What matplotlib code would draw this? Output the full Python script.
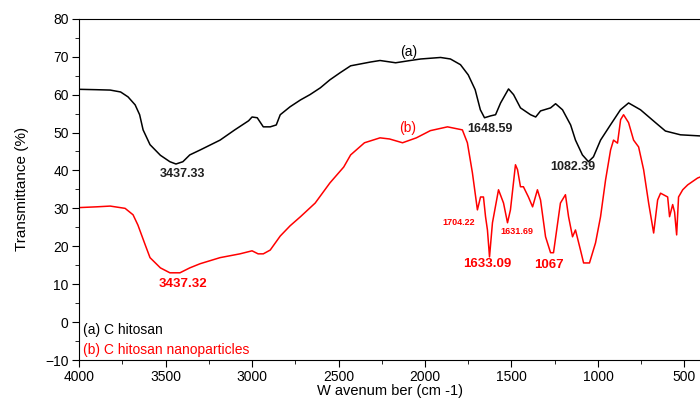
import numpy as np
from matplotlib import pyplot as plt
from matplotlib.ticker import MultipleLocator

plt.rcParams['font.family'] = ['Liberation Sans', 'DejaVu Sans']

# ---- Data ----

wn_a = [4000, 3900, 3820, 3760, 3717, 3676, 3650, 3630, 3590, 3530, 3475, 3440, 3400,
        3360, 3300, 3185, 3100, 3020, 3000, 2970, 2935, 2895, 2860, 2837, 2780, 2720,
        2665, 2605, 2550, 2490, 2430, 2315, 2260, 2170, 2085, 2025, 1910, 1853, 1795,
        1750, 1710, 1680, 1656, 1620, 1592, 1563, 1517, 1488, 1448, 1390, 1360, 1332,
        1274, 1245, 1205, 1158, 1130, 1090, 1055, 1026, 985, 928, 870, 823, 754, 667,
        610, 523, 407]
tr_a = [61.4, 61.3, 61.2, 60.7, 59.4, 57.3, 54.7, 50.7, 46.8, 44.0, 42.3, 41.7, 42.3,
        44.1, 45.4, 48.0, 50.7, 53.1, 54.1, 53.9, 51.5, 51.5, 52.0, 54.7, 56.8, 58.6,
        60.0, 61.8, 63.9, 65.8, 67.6, 68.6, 69.0, 68.4, 69.0, 69.4, 69.8, 69.4, 67.9,
        65.2, 61.3, 56.0, 53.9, 54.4, 54.7, 57.8, 61.5, 60.0, 56.5, 54.7, 54.1, 55.7,
        56.5, 57.6, 56.0, 52.0, 48.0, 44.1, 42.3, 43.6, 48.0, 52.0, 56.0, 57.8, 56.0, 52.6,
        50.4, 49.4, 49.1]

wn_b = [4000, 4000, 3900, 3820, 3734, 3688, 3660, 3618, 3590, 3530, 3475, 3417, 3360,
        3300, 3185, 3070, 3000, 2965, 2935, 2895, 2837, 2780, 2720, 2635, 2550, 2470,
        2430, 2350, 2260, 2205, 2130, 2050, 1969, 1870, 1784, 1755, 1726, 1697, 1679,
        1662, 1650, 1639, 1627, 1610, 1575, 1546, 1523, 1506, 1477, 1465, 1448, 1431,
        1402, 1378, 1350, 1332, 1303, 1274, 1257, 1217, 1188, 1170, 1147, 1130, 1101,
        1083, 1049, 1014, 985, 956, 927, 910, 887, 869, 852, 823, 794, 765, 736, 707,
        678, 655, 638, 597, 586, 568, 557, 545, 534, 510, 481, 424, 407]
tr_b = [-10.0, 30.2, 30.4, 30.6, 30.0, 28.3, 25.6, 20.4, 17.0, 14.3, 13.0, 13.0, 14.3,
        15.4, 17.0, 18.0, 18.8, 18.0, 18.0, 19.0, 22.7, 25.4, 27.8, 31.4, 36.7, 40.9,
        44.1, 47.3, 48.6, 48.3, 47.3, 48.6, 50.5, 51.5, 50.7, 47.3, 39.4, 29.6, 33.0,
        33.0, 27.8, 24.3, 17.2, 26.2, 34.9, 31.4, 26.2, 29.6, 41.5, 40.2, 35.7, 35.7,
        33.0, 30.4, 34.9, 32.2, 22.5, 18.3, 18.3, 31.4, 33.6, 27.8, 22.5, 24.3, 19.0,
        15.6, 15.6, 20.9, 27.8, 37.5, 45.4, 48.0, 47.2, 53.4, 54.7, 52.6, 48.0, 46.2,
        40.2, 31.4, 23.5, 32.2, 34.0, 33.0, 27.8, 31.0, 29.0, 23.0, 33.0, 34.9, 36.2,
        38.0, 38.3]

peaks_a = ["3437.33", "1648.59", "1082.39"]
peaks_a_pos = [(3400, 39.1), (1622, 51.0), (1147, 41.0)]
peaks_b = ["3437.32", "1633.09", "1067"]
peaks_b_pos = [(3400, 10.0), (1639, 15.3), (1286, 15.0)]
peaks_b_small = ["1704.22", "1631.69"]
peaks_b_small_pos = [(1807, 26.2), (1471, 23.8)]

# ---- Figure ----

fig = plt.figure(figsize=(7, 4), dpi=100)
ax = fig.add_axes([0.113, 0.10, 0.887, 0.853])

ax.plot(wn_a, tr_a, color="black", linewidth=1.1)
ax.plot(wn_b, tr_b, color="red", linewidth=1.1)

ax.set_xlim(4000, 410)
ax.set_ylim(-10, 80)
ax.xaxis.set_major_locator(MultipleLocator(500))
ax.xaxis.set_minor_locator(MultipleLocator(250))
ax.yaxis.set_major_locator(MultipleLocator(10))
ax.yaxis.set_minor_locator(MultipleLocator(5))
ax.tick_params(which="both", direction="out", top=False, right=False, labelsize=10)
ax.tick_params(which="major", length=5, pad=2.5)
ax.tick_params(which="minor", length=3)
ax.spines["right"].set_visible(False)

ax.set_xlabel("W avenum ber (cm -1)", fontsize=10.5, labelpad=0)
ax.set_ylabel("Transmittance (%)", fontsize=11, labelpad=12)

ax.text(2096, 71.3, "(a)", color="black", fontsize=10, ha="center", va="center")
ax.text(2102, 51.2, "(b)", color="red", fontsize=10, ha="center", va="center")

for s, (x, y) in zip(peaks_a, peaks_a_pos):
    ax.text(x, y, s, color="#202020", fontsize=9, fontweight="bold", ha="center", va="center")
for s, (x, y) in zip(peaks_b, peaks_b_pos):
    ax.text(x, y, s, color="red", fontsize=9.5, fontweight="bold", ha="center", va="center")
for s, (x, y) in zip(peaks_b_small, peaks_b_small_pos):
    ax.text(x, y, s, color="red", fontsize=6.5, fontweight="bold", ha="center", va="center")

ax.text(3975, -2.1, "(a) C hitosan", color="black", fontsize=10, ha="left", va="center")
ax.text(3975, -7.3, "(b) C hitosan nanoparticles", color="red", fontsize=10,
        ha="left", va="center")

fig.savefig("out.png", dpi=100)
